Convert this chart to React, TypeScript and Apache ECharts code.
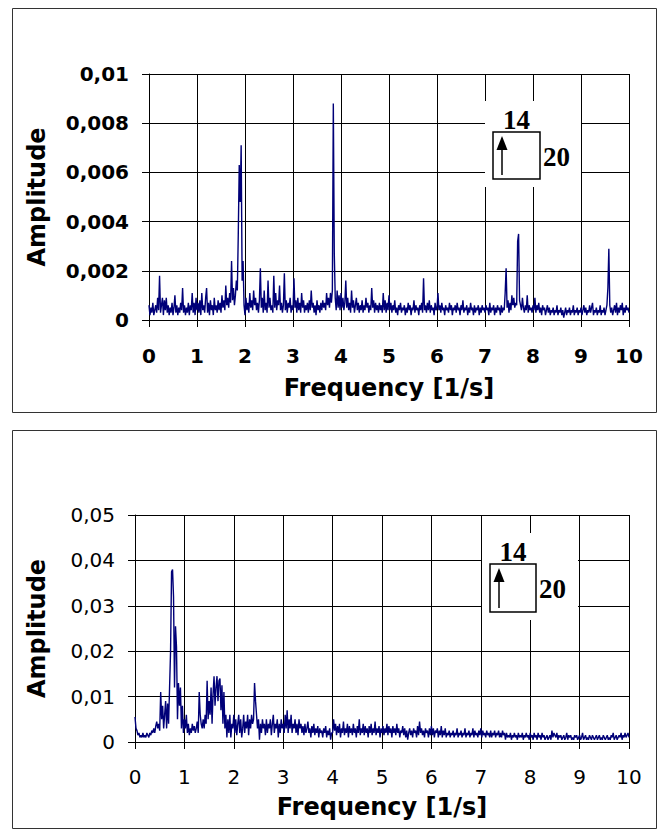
import React, { useEffect, useRef } from "react";
import * as echarts from "echarts";

// frequency sampling of the spectra [1/s]
const FREQ_STEP = 0.02;
const X_TICKS = ["0", "1", "2", "3", "4", "5", "6", "7", "8", "9", "10"];

// top panel amplitude, 0 .. 10 1/s (one row of 10 values = 0.2 1/s)
const topAmp = [
  0.0006, 0.0002, 0.0005, 0.0003, 0.0007, 0.0002, 0.0004, 0.0006, 0.0003, 0.0009,
  0.0004, 0.0018, 0.0003, 0.0006, 0.0009, 0.0002, 0.0008, 0.0004, 0.0009, 0.0003,
  0.0006, 0.0002, 0.0005, 0.0003, 0.0007, 0.0002, 0.0005, 0.001, 0.0003, 0.0006,
  0.0002, 0.0005, 0.0003, 0.0007, 0.0004, 0.0013, 0.0003, 0.0006, 0.0002, 0.0005,
  0.0003, 0.0007, 0.0002, 0.0006, 0.0004, 0.0011, 0.0003, 0.0007, 0.0002, 0.0009,
  0.0004, 0.0007, 0.0003, 0.0008, 0.0002, 0.0011, 0.0004, 0.0006, 0.0003, 0.0009,
  0.0013, 0.0003, 0.0007, 0.0002, 0.0008, 0.0004, 0.0006, 0.0002, 0.0009, 0.0004,
  0.0006, 0.0003, 0.0008, 0.0004, 0.0007, 0.0003, 0.001, 0.0005, 0.0008, 0.0004,
  0.0014, 0.0006, 0.0009, 0.0005, 0.0011, 0.0007, 0.0024, 0.0008, 0.0013, 0.0006,
  0.001, 0.0016, 0.0012, 0.0035, 0.0063, 0.0048, 0.0071, 0.0016, 0.0024, 0.0006,
  0.0002, 0.0009, 0.0004, 0.0007, 0.0003, 0.0011, 0.0005, 0.0008, 0.0004, 0.0012,
  0.0006, 0.0009, 0.0004, 0.0007, 0.0003, 0.0008, 0.0021, 0.0005, 0.0009, 0.0003,
  0.0012, 0.0004, 0.0007, 0.0003, 0.0016, 0.0005, 0.0009, 0.0004, 0.0006, 0.0003,
  0.0018, 0.0005, 0.0011, 0.0004, 0.0008, 0.0006, 0.0014, 0.0004, 0.0007, 0.0003,
  0.0006, 0.0019, 0.0004, 0.0008, 0.0003, 0.0007, 0.0005, 0.0009, 0.0003, 0.0006,
  0.0004, 0.0017, 0.0005, 0.0008, 0.0003, 0.0009, 0.0004, 0.0007, 0.0003, 0.0011,
  0.0005, 0.0008, 0.0003, 0.0006, 0.0004, 0.0007, 0.0003, 0.0008, 0.0004, 0.0012,
  0.0005, 0.0007, 0.0003, 0.0006, 0.0002, 0.0008, 0.0004, 0.0006, 0.0003, 0.0007,
  0.0004, 0.0008, 0.0005, 0.0007, 0.0004, 0.0011, 0.0006, 0.0009, 0.0005, 0.0011,
  0.0007, 0.0012, 0.0088, 0.0027, 0.0009, 0.0004, 0.0012, 0.0005, 0.001, 0.0004,
  0.0011, 0.0005, 0.0009, 0.0004, 0.0007, 0.0016, 0.0005, 0.0009, 0.0004, 0.0007,
  0.0003, 0.0012, 0.0005, 0.0008, 0.0003, 0.0006, 0.0009, 0.0004, 0.0007, 0.0003,
  0.0006, 0.0004, 0.0008, 0.0003, 0.0006, 0.0004, 0.0009, 0.0005, 0.0007, 0.0003,
  0.0006, 0.0004, 0.0013, 0.0005, 0.0008, 0.0003, 0.0007, 0.0004, 0.0006, 0.0003,
  0.0007, 0.0004, 0.0006, 0.0003, 0.0011, 0.0004, 0.0008, 0.0003, 0.0007, 0.0004,
  0.001, 0.0004, 0.0007, 0.0003, 0.0006, 0.0004, 0.0008, 0.0003, 0.0005, 0.0002,
  0.0006, 0.0004, 0.0007, 0.0003, 0.0005, 0.0004, 0.0006, 0.0002, 0.0005, 0.0003,
  0.0007, 0.0004, 0.0006, 0.0002, 0.0005, 0.0004, 0.0008, 0.0003, 0.0006, 0.0004,
  0.0005, 0.0002, 0.0006, 0.0004, 0.0007, 0.0003, 0.0017, 0.0004, 0.0006, 0.0003,
  0.0007, 0.0004, 0.0008, 0.0003, 0.0006, 0.0004, 0.0005, 0.0002, 0.0007, 0.0004,
  0.0005, 0.0011, 0.0004, 0.0006, 0.0003, 0.0007, 0.0004, 0.0005, 0.0002, 0.0006,
  0.0004, 0.0005, 0.0003, 0.0007, 0.0004, 0.0006, 0.0002, 0.0005, 0.0004, 0.0006,
  0.0003, 0.0007, 0.0004, 0.0005, 0.0002, 0.0006, 0.0004, 0.0008, 0.0003, 0.0005,
  0.0004, 0.0006, 0.0002, 0.0005, 0.0003, 0.0007, 0.0004, 0.0005, 0.0002, 0.0006,
  0.0003, 0.0005, 0.0004, 0.0006, 0.0002, 0.0005, 0.0003, 0.0006, 0.0004, 0.0005,
  0.0003, 0.0006, 0.0004, 0.0005, 0.0002, 0.0007, 0.0003, 0.0005, 0.0004, 0.0006,
  0.0002, 0.0005, 0.0003, 0.0006, 0.0004, 0.0005, 0.0002, 0.0006, 0.0003, 0.0005,
  0.0004, 0.0011, 0.0021, 0.0005, 0.0008, 0.0003, 0.0007, 0.0004, 0.001, 0.0006,
  0.0009, 0.0005, 0.0007, 0.0006, 0.0032, 0.0035, 0.0008, 0.0006, 0.0004, 0.0009,
  0.0005, 0.0003, 0.0006, 0.0004, 0.001, 0.0003, 0.0006, 0.0004, 0.0005, 0.0003,
  0.0006, 0.0004, 0.0009, 0.0003, 0.0006, 0.0004, 0.0007, 0.0003, 0.0005, 0.0002,
  0.0006, 0.0004, 0.0005, 0.0002, 0.0004, 0.0006, 0.0003, 0.0005, 0.0002, 0.0004,
  0.0003, 0.0005, 0.0002, 0.0004, 0.0003, 0.0006, 0.0002, 0.0004, 0.0003, 0.0005,
  0.0002, 0.0004, 0.0001, 0.0003, 0.0005, 0.0002, 0.0004, 0.0003, 0.0005, 0.0002,
  0.0004, 0.0003, 0.0006, 0.0002, 0.0004, 0.0003, 0.0005, 0.0002, 0.0004, 0.0003,
  0.0005, 0.0002, 0.0004, 0.0006, 0.0003, 0.0005, 0.0002, 0.0004, 0.0003, 0.0006,
  0.0003, 0.0005, 0.0007, 0.0002, 0.0004, 0.0003, 0.0005, 0.0002, 0.0004, 0.0003,
  0.0006, 0.0002, 0.0004, 0.0003, 0.0005, 0.0002, 0.0004, 0.0006, 0.0013, 0.0029,
  0.0006, 0.0003, 0.0005, 0.0002, 0.0004, 0.0006, 0.0003, 0.0007, 0.0002, 0.0005,
  0.0003, 0.0006, 0.0004, 0.0007, 0.0002, 0.0005, 0.0003, 0.0006, 0.0004, 0.0005,
  0.0003,
];

// bottom panel amplitude, 0 .. 10 1/s (one row of 10 values = 0.2 1/s)
const bottomAmp = [
  0.0055, 0.003, 0.0025, 0.0015, 0.002, 0.001, 0.0015, 0.001, 0.002, 0.001,
  0.0015, 0.001, 0.002, 0.0015, 0.001, 0.002, 0.0015, 0.0025, 0.002, 0.003,
  0.002, 0.0035, 0.0045, 0.003, 0.004, 0.0025, 0.011, 0.005, 0.008, 0.003,
  0.006, 0.009, 0.003, 0.0085, 0.004, 0.012, 0.02, 0.0375, 0.038, 0.032,
  0.012, 0.0255, 0.021, 0.005, 0.013, 0.008, 0.012, 0.003, 0.008, 0.002,
  0.005, 0.003, 0.006, 0.002, 0.004, 0.0015, 0.003, 0.002, 0.004, 0.0025,
  0.0035, 0.002, 0.003, 0.0045, 0.002, 0.011, 0.006, 0.004, 0.003, 0.005,
  0.003, 0.006, 0.004, 0.0135, 0.005, 0.009, 0.006, 0.012, 0.004, 0.0105,
  0.0145, 0.008, 0.012, 0.0145, 0.009, 0.0135, 0.014, 0.007, 0.0125, 0.004,
  0.011, 0.003, 0.006, 0.001, 0.005, 0.002, 0.006, 0.001, 0.004, 0.003,
  0.006, 0.002, 0.005, 0.0015, 0.004, 0.006, 0.002, 0.005, 0.001, 0.003,
  0.006, 0.002, 0.0045, 0.003, 0.006, 0.0015, 0.005, 0.003, 0.006, 0.004,
  0.005, 0.013, 0.009, 0.006, 0.003, 0.005, 0.0005, 0.004, 0.002, 0.005,
  0.003, 0.004, 0.0015, 0.005, 0.002, 0.004, 0.003, 0.005, 0.0015, 0.004,
  0.006, 0.002, 0.004, 0.003, 0.005, 0.001, 0.004, 0.002, 0.005, 0.003,
  0.004, 0.002, 0.006, 0.003, 0.007, 0.002, 0.005, 0.003, 0.006, 0.002,
  0.004, 0.003, 0.005, 0.002, 0.004, 0.0015, 0.005, 0.003, 0.004, 0.002,
  0.0035, 0.0015, 0.004, 0.002, 0.003, 0.0045, 0.002, 0.003, 0.001, 0.0035,
  0.002, 0.004, 0.0015, 0.003, 0.002, 0.0035, 0.001, 0.003, 0.002, 0.0025,
  0.001, 0.003, 0.002, 0.0035, 0.001, 0.0025, 0.0015, 0.003, 0.0005, 0.002,
  0.002, 0.005, 0.0025, 0.004, 0.0015, 0.0035, 0.002, 0.004, 0.001, 0.003,
  0.002, 0.0045, 0.0015, 0.003, 0.002, 0.004, 0.001, 0.0035, 0.002, 0.003,
  0.0015, 0.004, 0.002, 0.003, 0.001, 0.0035, 0.002, 0.005, 0.0015, 0.003,
  0.002, 0.004, 0.0015, 0.0035, 0.002, 0.003, 0.001, 0.0035, 0.002, 0.004,
  0.0015, 0.003, 0.002, 0.0045, 0.0015, 0.003, 0.002, 0.0035, 0.001, 0.003,
  0.002, 0.0035, 0.0015, 0.003, 0.002, 0.004, 0.0015, 0.0035, 0.002, 0.003,
  0.001, 0.0035, 0.002, 0.003, 0.0015, 0.004, 0.002, 0.003, 0.001, 0.0025,
  0.002, 0.0035, 0.0015, 0.003, 0.001, 0.0025, 0.0005, 0.002, 0.003, 0.0015,
  0.0025, 0.001, 0.003, 0.002, 0.0025, 0.001, 0.0035, 0.0015, 0.0045, 0.002,
  0.003, 0.0015, 0.0025, 0.001, 0.003, 0.002, 0.0025, 0.001, 0.003, 0.0015,
  0.0035, 0.0015, 0.003, 0.001, 0.0025, 0.002, 0.003, 0.001, 0.0025, 0.0015,
  0.0035, 0.001, 0.0025, 0.0015, 0.003, 0.001, 0.002, 0.0015, 0.0025, 0.001,
  0.002, 0.0015, 0.0025, 0.001, 0.002, 0.0015, 0.003, 0.001, 0.002, 0.0015,
  0.0025, 0.001, 0.002, 0.0015, 0.003, 0.001, 0.002, 0.0015, 0.0025, 0.001,
  0.002, 0.0015, 0.003, 0.001, 0.0025, 0.0015, 0.002, 0.001, 0.0025, 0.0015,
  0.003, 0.001, 0.0025, 0.0015, 0.002, 0.001, 0.0025, 0.0015, 0.002, 0.001,
  0.0025, 0.001, 0.002, 0.0015, 0.0025, 0.001, 0.002, 0.0015, 0.0025, 0.001,
  0.002, 0.001, 0.0025, 0.0015, 0.002, 0.0005, 0.002, 0.001, 0.0015, 0.001,
  0.002, 0.0005, 0.0015, 0.001, 0.002, 0.001, 0.0015, 0.0005, 0.002, 0.001,
  0.0015, 0.001, 0.002, 0.0005, 0.0015, 0.001, 0.002, 0.001, 0.0015, 0.0005,
  0.002, 0.001, 0.0015, 0.0005, 0.002, 0.001, 0.0015, 0.0005, 0.002, 0.001,
  0.0015, 0.0005, 0.002, 0.001, 0.0015, 0.0005, 0.001, 0.0015, 0.0005, 0.001,
  0.0015, 0.0005, 0.0025, 0.001, 0.002, 0.0015, 0.001, 0.002, 0.0005, 0.0015,
  0.001, 0.0015, 0.0005, 0.001, 0.0015, 0.0005, 0.001, 0.002, 0.0005, 0.0015,
  0.001, 0.0015, 0.0005, 0.001, 0.0005, 0.0015, 0.001, 0.0015, 0.0005, 0.001,
  0.0015, 0.0005, 0.001, 0.002, 0.0005, 0.001, 0.0015, 0.0005, 0.001, 0.0005,
  0.0015, 0.001, 0.0005, 0.0015, 0.001, 0.0005, 0.001, 0.0015, 0.0005, 0.001,
  0.0015, 0.0005, 0.001, 0.0005, 0.0015, 0.001, 0.0005, 0.001, 0.0015, 0.0005,
  0.001, 0.0005, 0.0015, 0.001, 0.002, 0.0005, 0.001, 0.0015, 0.0005, 0.001,
  0.0015, 0.001, 0.002, 0.0005, 0.0015, 0.001, 0.002, 0.001, 0.0015, 0.002,
  0.001,
];

const TOP_Y_TICKS = ["0", "0,002", "0,004", "0,006", "0,008", "0,01"];
const BOTTOM_Y_TICKS = ["0", "0,01", "0,02", "0,03", "0,04", "0,05"];
const X_TITLE = "Frequency [1/s]";
const Y_TITLE = "Amplitude";
const INSET_TOP_LABEL = "14";
const INSET_SIDE_LABEL = "20";

const toPairs = (arr: number[]) =>
  arr.map((v, i) => [Number((i * FREQ_STEP).toFixed(2)), v]);

const FONT = "DejaVu Sans";
const LINE_COLOR = "#000078";

function inset(x: number, y: number, boxW: number, boxH: number) {
  // x,y = top-left of the square
  return [
    {
      type: "rect",
      shape: { x: x - 8, y: y - 31, width: 96, height: boxH + 39 },
      style: { fill: "#fff" },
      z: 10,
    },
    {
      type: "rect",
      shape: { x, y, width: boxW, height: boxH },
      style: { fill: "#fff", stroke: "#000", lineWidth: 1.5 },
      z: 11,
    },
    {
      type: "line",
      shape: { x1: x + 9, y1: y + boxH - 4, x2: x + 9, y2: y + 14 },
      style: { stroke: "#000", lineWidth: 1.5 },
      z: 12,
    },
    {
      type: "polygon",
      shape: { points: [[x + 9, y + 4], [x + 3.5, y + 18], [x + 14.5, y + 18]] },
      style: { fill: "#000" },
      z: 12,
    },
    {
      type: "text",
      x: x + boxW / 2,
      y: y + 1,
      style: {
        text: INSET_TOP_LABEL,
        font: "bold 27px 'Liberation Serif', 'Times New Roman', serif",
        fill: "#000",
        align: "center",
        verticalAlign: "bottom",
      },
      z: 12,
    },
    {
      type: "text",
      x: x + boxW + 3,
      y: y + boxH / 2 + 1,
      style: {
        text: INSET_SIDE_LABEL,
        font: "bold 27px 'Liberation Serif', 'Times New Roman', serif",
        fill: "#000",
        align: "left",
        verticalAlign: "middle",
      },
      z: 12,
    },
  ];
}

export default function App() {
  const ref = useRef<HTMLDivElement>(null);
  useEffect(() => {
    if (!ref.current) return;
    const chart = echarts.init(ref.current, undefined, { renderer: "svg" });

    const axisLine = { show: true, lineStyle: { color: "#000", width: 1 } };
    const splitLine = { show: true, lineStyle: { color: "#000", width: 1 } };
    const axisTick = { show: true, inside: false, length: 7, lineStyle: { color: "#000" } };

    const xAxisBase = (bold: boolean, margin: number, gap: number) => ({
      type: "value",
      min: 0,
      max: 10,
      interval: 1,
      axisLine,
      splitLine,
      axisTick,
      axisLabel: {
        color: "#000",
        fontFamily: FONT,
        fontSize: 20,
        fontWeight: bold ? "bold" : "normal",
        margin,
        formatter: (v: number) => X_TICKS[Math.round(v)] ?? "",
      },
      name: X_TITLE,
      nameLocation: "middle",
      nameGap: gap,
      nameTextStyle: { color: "#000", fontFamily: FONT, fontWeight: "bold", fontSize: 24 },
    });

    const yAxisBase = (max: number, interval: number, ticks: string[], bold: boolean, gap: number) => ({
      type: "value",
      min: 0,
      max,
      interval,
      axisLine,
      splitLine,
      axisTick,
      axisLabel: {
        color: "#000",
        fontFamily: FONT,
        fontSize: 20,
        fontWeight: bold ? "bold" : "normal",
        margin: 20,
        formatter: (v: number) => ticks[Math.round(v / interval)] ?? "",
      },
      name: Y_TITLE,
      nameLocation: "middle",
      nameGap: gap,
      nameRotate: 90,
      nameTextStyle: { color: "#000", fontFamily: FONT, fontWeight: "bold", fontSize: 24 },
    });

    chart.setOption({
      animation: false,
      backgroundColor: "#fff",
      grid: [
        { left: 149, top: 74, width: 480, height: 246 },
        { left: 135, top: 515, width: 494, height: 227 },
      ],
      xAxis: [
        { ...xAxisBase(true, 26, 56), gridIndex: 0 },
        { ...xAxisBase(false, 25, 53), gridIndex: 1 },
      ],
      yAxis: [
        { ...yAxisBase(0.01, 0.002, TOP_Y_TICKS, true, 100), gridIndex: 0 },
        { ...yAxisBase(0.05, 0.01, BOTTOM_Y_TICKS, false, 86), gridIndex: 1 },
      ],
      series: [
        {
          type: "line",
          xAxisIndex: 0,
          yAxisIndex: 0,
          data: toPairs(topAmp),
          showSymbol: false,
          symbol: "none",
          lineStyle: { color: LINE_COLOR, width: 1.4 },
          z: 5,
        },
        {
          type: "line",
          xAxisIndex: 1,
          yAxisIndex: 1,
          data: toPairs(bottomAmp),
          showSymbol: false,
          symbol: "none",
          lineStyle: { color: LINE_COLOR, width: 1.4 },
          z: 5,
        },
      ],
      graphic: [
        {
          type: "rect",
          shape: { x: 12.5, y: 8.5, width: 644, height: 404 },
          style: { fill: "none", stroke: "#333", lineWidth: 1 },
        },
        {
          type: "rect",
          shape: { x: 12.5, y: 430.5, width: 644, height: 398 },
          style: { fill: "none", stroke: "#333", lineWidth: 1 },
        },
        ...inset(493, 132, 47, 47),
        ...inset(490, 564, 46, 48),
      ],
    });
    return () => chart.dispose();
  }, []);
  return (
    <div
      ref={ref}
      style={{ position: "absolute", left: 0, top: 0, width: 663, height: 832 }}
    />
  );
}
